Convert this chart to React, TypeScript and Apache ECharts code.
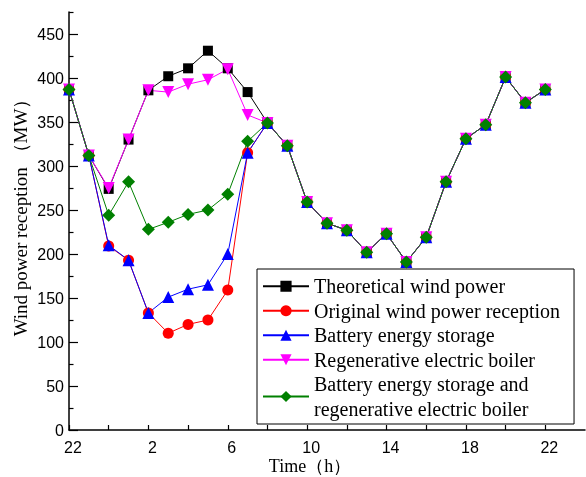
import React, { useEffect, useRef } from "react";
import * as echarts from "echarts";

const hourLabels = [22, 23, 0, 1, 2, 3, 4, 5, 6, 7, 8, 9, 10, 11, 12, 13, 14, 15, 16, 17, 18, 19, 20, 21, 22];
const theoretical = [387, 312, 274, 330, 386, 402, 411, 431, 411, 384, 349, 323, 259, 235, 227, 202, 223, 191, 219, 282, 331, 347, 401, 372, 387];
const original = [387, 312, 209, 193, 133, 110, 120, 125, 159, 315, 349, 323, 259, 235, 227, 202, 223, 191, 219, 282, 331, 347, 401, 372, 387];
const battery = [387, 312, 210, 193, 133, 151, 160, 165, 200, 315, 349, 323, 259, 235, 227, 202, 223, 191, 219, 282, 331, 347, 401, 372, 387];
const boiler = [387, 312, 275, 330, 386, 384, 393, 398, 410, 358, 349, 323, 259, 235, 227, 202, 223, 191, 219, 282, 331, 347, 401, 372, 387];
const combined = [387, 312, 244, 282, 228, 236, 245, 250, 268, 328, 349, 323, 259, 235, 227, 202, 223, 191, 219, 282, 331, 347, 401, 372, 387];

const seriesNames = [
  "Theoretical wind power",
  "Original wind power reception",
  "Battery energy storage",
  "Regenerative electric boiler",
  "Battery energy storage and\nregenerative electric boiler",
];
const xTickValues = [0, 2, 4, 6, 8, 10, 12, 14, 16, 18, 20, 22, 24];
const xLabelValues = [0, 4, 8, 12, 16, 20, 24];
const yLabelValues = [0, 50, 100, 150, 200, 250, 300, 350, 400, 450];
const yMinorValues = [25, 75, 125, 175, 225, 275, 325, 375, 425, 475];

const toPairs = (arr: number[]) => arr.map((v, i) => [i, v]);

export default function App() {
  const ref = useRef<HTMLDivElement>(null);
  useEffect(() => {
    if (!ref.current) return;
    const chart = echarts.init(ref.current, null, { renderer: "svg" });
    const axisColor = "#000";
    const mk = (name: string, data: number[], color: string, symbol: string, size: number, rotate = 0) => ({
      name,
      type: "line",
      data: toPairs(data),
      symbol,
      symbolSize: size,
      symbolRotate: rotate,
      showAllSymbol: true,
      lineStyle: { color, width: 1 },
      itemStyle: { color, borderWidth: 0 },
      emphasis: { disabled: true },
    });
    chart.setOption({
      animation: false,
      grid: { left: 69, right: 1, top: 12, bottom: 47, containLabel: false, outerBoundsMode: "none" },
      xAxis: {
        type: "value",
        min: 0,
        max: 26,
        axisLine: { show: true, lineStyle: { color: axisColor, width: 1.5 } },
        axisTick: { show: true, inside: true, length: 5, customValues: xTickValues, lineStyle: { color: axisColor, width: 1.2 } },
        axisLabel: {
          customValues: xLabelValues,
          formatter: (v: number) => String(hourLabels[v] ?? ""),
          fontFamily: "Liberation Sans",
          fontSize: 16,
          color: "#000",
          margin: 9,
          padding: [0, 0, 0, 8],
        },
        splitLine: { show: false },
      },
      yAxis: [
        {
          type: "value",
          min: 0,
          max: 475,
          axisLine: { show: true, lineStyle: { color: axisColor, width: 1.5 } },
          axisTick: { show: true, inside: true, length: 9, customValues: yLabelValues, lineStyle: { color: axisColor, width: 1.2 } },
          axisLabel: {
            customValues: yLabelValues,
            fontFamily: "Liberation Sans",
            fontSize: 16,
            color: "#000",
            margin: 5,
          },
          splitLine: { show: false },
        },
        {
          type: "value",
          min: 0,
          max: 475,
          position: "left",
          axisLine: { show: false },
          axisTick: { show: true, inside: true, length: 4.5, customValues: yMinorValues, lineStyle: { color: axisColor, width: 1.2 } },
          axisLabel: { show: false },
          splitLine: { show: false },
        },
      ],
      legend: {
        left: 257,
        top: 269,
        orient: "vertical",
        itemGap: 0,
        itemWidth: 46,
        itemHeight: 14,
        padding: [5, 14, 3, 5],
        borderColor: "#000",
        borderWidth: 1,
        backgroundColor: "#fff",
        textStyle: { fontFamily: "Liberation Serif", fontSize: 20, lineHeight: 24.5, color: "#000" },
        data: seriesNames,
      },
      graphic: [
        {
          type: "text",
          x: 310,
          y: 466,
          style: {
            text: "Time（h）",
            font: '18px "Liberation Serif"',
            fill: "#000",
            textAlign: "center",
            textVerticalAlign: "middle",
          },
        },
        {
          type: "text",
          x: 20,
          y: 213,
          rotation: Math.PI / 2,
          style: {
            text: "Wind power reception （MW）",
            font: '19px "Liberation Serif"',
            fill: "#000",
            textAlign: "center",
            textVerticalAlign: "middle",
          },
        },
      ],
      series: [
        mk(seriesNames[0], theoretical, "#000000", "rect", 10),
        mk(seriesNames[1], original, "#ff0000", "circle", 11),
        mk(seriesNames[2], battery, "#0000ff", "triangle", 12),
        mk(seriesNames[3], boiler, "#ff00ff", "triangle", 12, 180),
        mk(seriesNames[4], combined, "#008000", "diamond", 13),
      ],
    });
    return () => chart.dispose();
  }, []);
  return <div ref={ref} style={{ position: "fixed", left: 0, top: 0, width: 586, height: 477 }} />;
}
